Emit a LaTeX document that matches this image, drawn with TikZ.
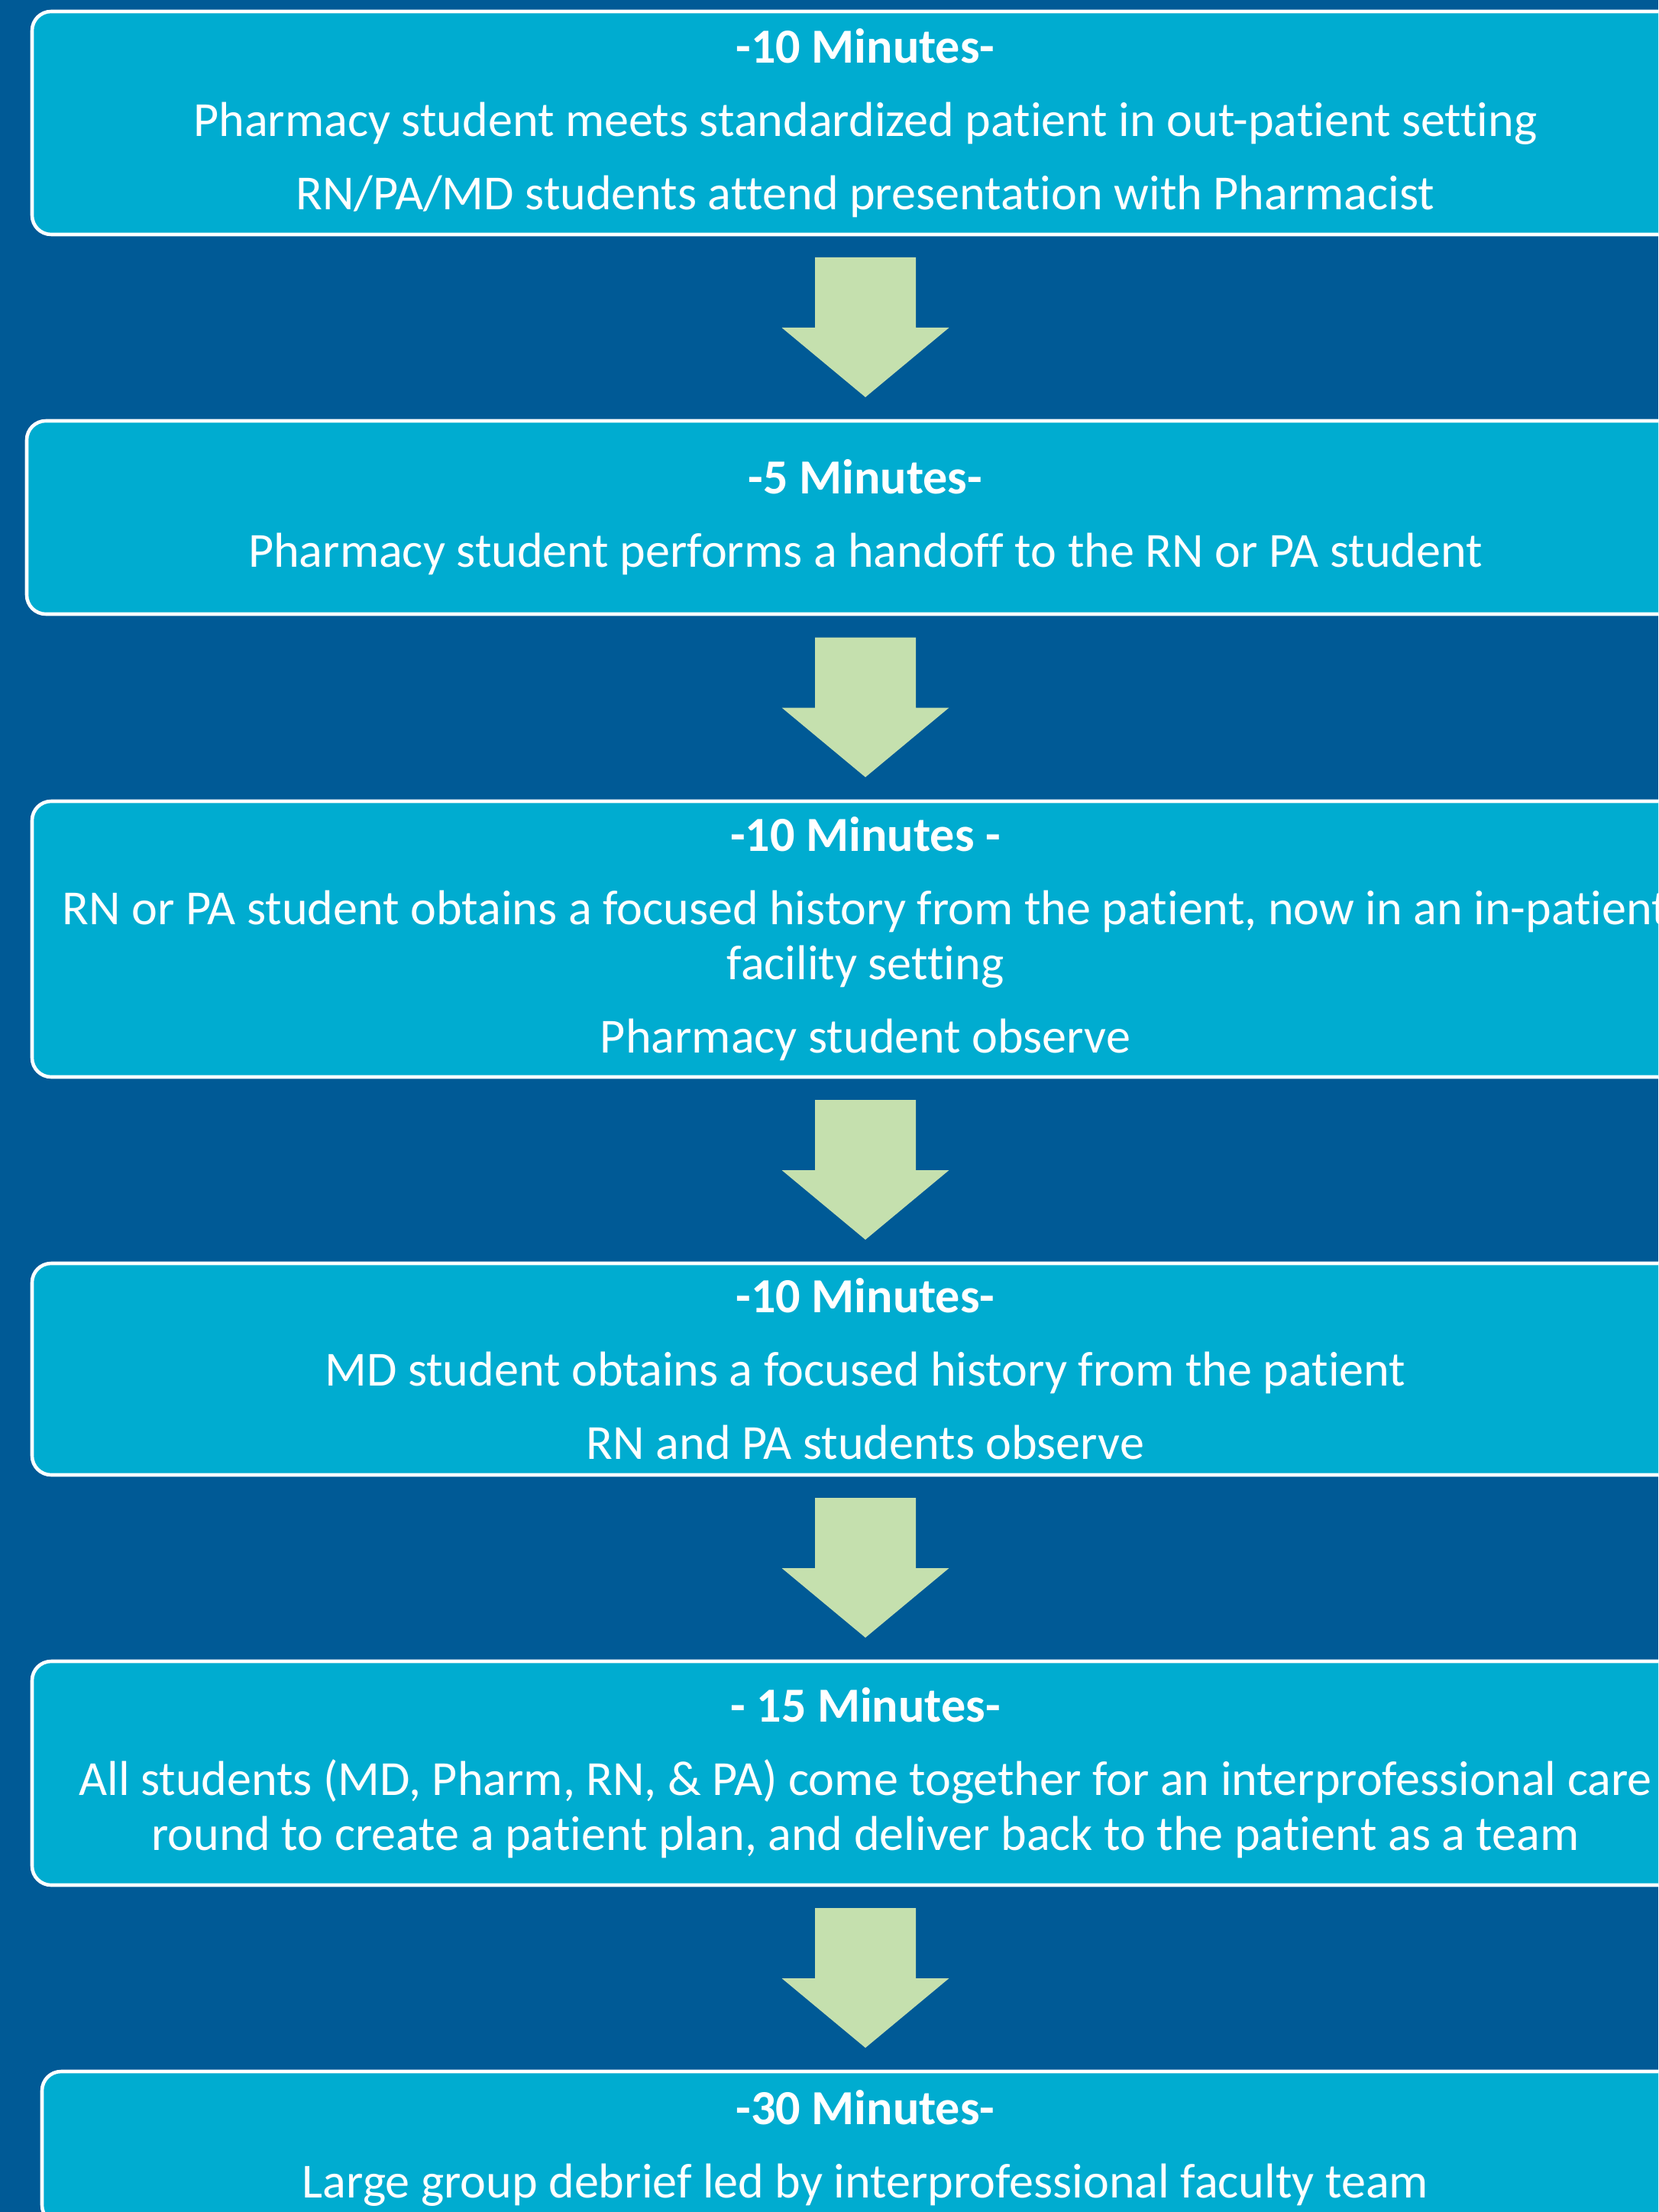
\documentclass[tikz,border=0pt]{standalone}
\usepackage{fontspec}
\setmainfont{Carlito}[Ligatures={NoCommon,NoContextual,NoRequired},RawFeature=-calt]
\usetikzlibrary{calc}
\definecolor{slideblue}{RGB}{0,90,150}
\definecolor{boxcyan}{RGB}{0,172,208}
\definecolor{arrowgreen}{RGB}{197,224,174}

\begin{document}
\begin{tikzpicture}[
    stage/.style={draw=white, line width=1.3pt, fill=boxcyan, rounded corners=0.25cm,
      text=white, align=center, inner sep=0pt, outer sep=0pt,
      font=\fontsize{18.25}{20.5}\selectfont},
  ]
  % slide background
  \useasboundingbox (0,0) rectangle (21.71,-28.96);
  \clip (0,0) rectangle (21.71,-28.96);
  \fill[slideblue] (0,0) rectangle (21.71,-28.96);

  % the six stages
  \node[stage, minimum width=21.82cm, minimum height=2.92cm] (s1) at (11.33,-1.61)
    {\textbf{-10 Minutes-}\\[6.8pt]
     Pharmacy student meets standardized patient in out-patient setting\\[6.8pt]
     RN/PA/MD students attend presentation with Pharmacist};
  \node[stage, minimum width=21.96cm, minimum height=2.53cm] (s2) at (11.33,-6.775)
    {\textbf{-5 Minutes-}\\[6.8pt]
     Pharmacy student performs a handoff to the RN or PA student};
  \node[stage, minimum width=21.82cm, minimum height=3.61cm] (s3) at (11.33,-12.295)
    {\textbf{-10 Minutes -}\\[6.8pt]
     RN or PA student obtains a focused history from the patient, now in an in-patient\\
     facility setting\\[6.8pt]
     Pharmacy student observe};
  \node[stage, minimum width=21.82cm, minimum height=2.77cm] (s4) at (11.33,-17.925)
    {\textbf{-10 Minutes-}\\[6.8pt]
     MD student obtains a focused history from the patient\\[6.8pt]
     RN and PA students observe};
  \node[stage, minimum width=21.82cm, minimum height=2.93cm] (s5) at (11.33,-23.215)
    {\textbf{- 15 Minutes-}\\[6.8pt]
     All students (MD, Pharm, RN, \& PA) come together for an interprofessional care\\
     round to create a patient plan, and deliver back to the patient as a team};
  \node[stage, minimum width=21.56cm, minimum height=2.00cm] (s6) at (11.33,-28.12)
    {\textbf{-30 Minutes-}\\[6.8pt]
     Large group debrief led by interprofessional faculty team};

  % block arrows between stages
  \foreach \from/\to in {s1/s2,s2/s3,s3/s4,s4/s5,s5/s6}
    \fill[arrowgreen] ($(\from.south)!.5!(\to.north)$) +(-0.66,0.92) -- +(0.66,0.92)
      -- +(0.66,0) -- +(1.095,0) -- +(0,-0.91) -- +(-1.095,0) -- +(-0.66,0) -- cycle;
\end{tikzpicture}
\end{document}
